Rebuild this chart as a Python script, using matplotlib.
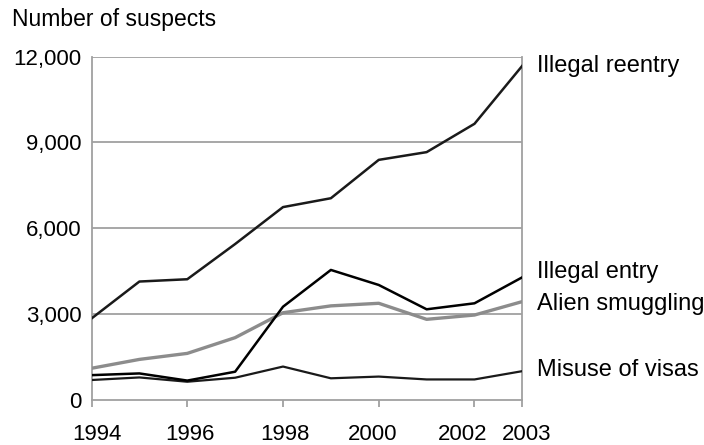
import matplotlib.pyplot as plt
from matplotlib.transforms import ScaledTranslation

plt.rcParams['font.family'] = ['Liberation Sans', 'DejaVu Sans']

years = [1994, 1995, 1996, 1997, 1998, 1999, 2000, 2001, 2002, 2003]
reentry = [2850, 4140, 4220, 5450, 6740, 7050, 8390, 8660, 9650, 11680]
entry = [870, 930, 680, 990, 3260, 4545, 4020, 3170, 3380, 4290]
smuggling = [1110, 1420, 1630, 2180, 3050, 3290, 3380, 2820, 2970, 3440]
visas = [700, 790, 640, 780, 1170, 760, 820, 720, 720, 1010]

labels = ['Illegal reentry', 'Illegal entry', 'Alien smuggling', 'Misuse of visas']
label_y = [11680, 4480, 3360, 1040]

xticks = [1994, 1996, 1998, 2000, 2002, 2003]
yticks = [0, 3000, 6000, 9000, 12000]
# small sideways nudges (pixels) so the year labels don't collide at the right end
xlabel_shift = [5, 3, 2, -6, -12, 4]

fs = 16

fig = plt.figure(figsize=(7.04, 4.45), dpi=100)
ax = fig.add_axes([0.130, 0.101, 0.612, 0.772])

grid_c = '#a0a0a0'
for v in yticks[1:]:
    ax.axhline(v, color=grid_c, lw=1.3, zorder=1)

ax.plot(years, smuggling, color='#8c8c8c', lw=2.4, zorder=3)
ax.plot(years, visas, color='#1a1a1a', lw=1.6, zorder=4)
ax.plot(years, entry, color='#000000', lw=1.8, zorder=5)
ax.plot(years, reentry, color='#1a1a1a', lw=1.8, zorder=5)

ax.set_xlim(1994, 2003)
ax.set_ylim(0, 12000)
ax.set_xticks(xticks)
ax.set_xticklabels([str(x) for x in xticks], fontsize=fs)
ax.set_yticks(yticks)
ax.set_yticklabels([f'{v:,}' for v in yticks], fontsize=fs)
ax.tick_params(axis='x', length=5, width=1.3, color=grid_c, pad=12)
ax.tick_params(axis='y', length=0, pad=7)

for lab, dx in zip(ax.get_xticklabels(), xlabel_shift):
    lab.set_transform(lab.get_transform() + ScaledTranslation(dx / 100, 0, fig.dpi_scale_trans))

ax.spines['top'].set_visible(False)
for s in ['left', 'right', 'bottom']:
    ax.spines[s].set_color(grid_c)
    ax.spines[s].set_linewidth(1.3)

for name, y in zip(labels, label_y):
    ax.annotate(name, xy=(2003, y), xytext=(10.5, 0), textcoords='offset points',
                va='center', ha='left', fontsize=17, annotation_clip=False)

fig.text(0.017, 0.957, 'Number of suspects', fontsize=16.5, va='center', ha='left')

fig.savefig('out.png', dpi=100)
